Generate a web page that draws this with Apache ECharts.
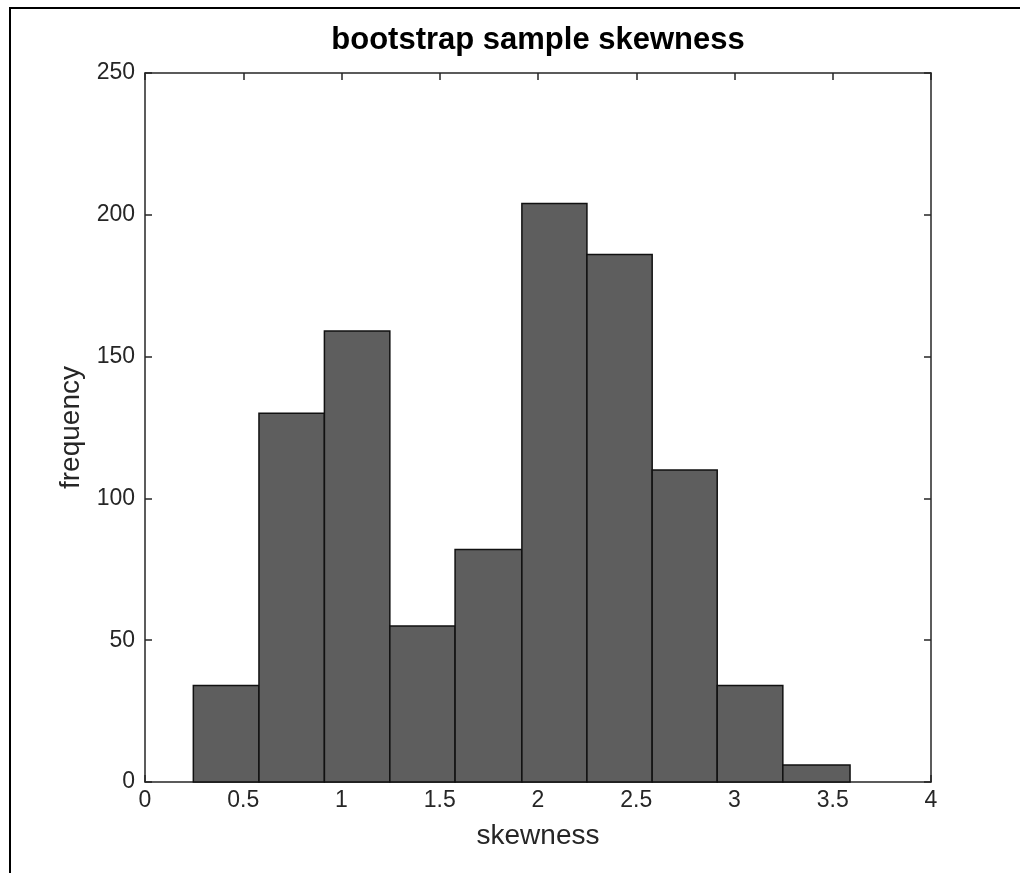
<!DOCTYPE html>
<html>
<head>
<meta charset="utf-8">
<script src="https://cdn.jsdelivr.net/npm/echarts@6/dist/echarts.min.js"></script>
<style>
html,body{margin:0;padding:0;background:#fff;}
#chart{width:1020px;height:873px;}
</style>
</head>
<body>
<div id="chart"></div>
<script>
var binEdges = [0.246, 0.580, 0.913, 1.246, 1.578, 1.918, 2.249, 2.581, 2.912, 3.246, 3.588];
var counts = [34, 130, 159, 55, 82, 204, 186, 110, 34, 6];
var xTicks = [0, 0.5, 1, 1.5, 2, 2.5, 3, 3.5, 4];
var yTicks = [0, 50, 100, 150, 200, 250];

var data = counts.map(function (c, i) { return [binEdges[i], binEdges[i + 1], c]; });
var FONT = 'Liberation Sans, Arial, sans-serif';

var chart = echarts.init(document.getElementById('chart'));
var axisLine = { show: true, onZero: false, lineStyle: { color: '#262626', width: 1.5 } };
var tick = { show: true, inside: true, length: 7, lineStyle: { color: '#262626', width: 1.5 } };

chart.setOption({
  backgroundColor: '#fff',
  animation: false,
  title: {
    text: 'bootstrap sample skewness',
    left: 533, top: 20, textAlign: 'center',
    textStyle: { fontFamily: FONT, fontSize: 31, fontWeight: 'bold', color: '#000' }
  },
  graphic: [{
    type: 'rect', shape: { x: 10, y: 8, width: 1030, height: 900 },
    style: { fill: 'none', stroke: '#000', lineWidth: 2 }, silent: true
  }],
  grid: { left: 145, right: 89, top: 73, bottom: 91, containLabel: false },
  xAxis: [{
    type: 'value', min: 0, max: 4, interval: 0.5, position: 'bottom',
    name: 'skewness', nameLocation: 'middle', nameGap: 40,
    nameTextStyle: { fontFamily: FONT, fontSize: 28, color: '#262626' },
    axisLine: axisLine, axisTick: tick, splitLine: { show: false },
    axisLabel: { fontFamily: FONT, fontSize: 23, color: '#262626', margin: 7,
      formatter: function (v) { return xTicks.indexOf(v) >= 0 ? String(v) : ''; } }
  }, {
    type: 'value', min: 0, max: 4, interval: 0.5, position: 'top',
    axisLine: axisLine, axisTick: tick, splitLine: { show: false }, axisLabel: { show: false }
  }],
  yAxis: [{
    type: 'value', min: 0, max: 250, interval: 50, position: 'left',
    name: 'frequency', nameLocation: 'middle', nameGap: 51,
    nameTextStyle: { fontFamily: FONT, fontSize: 28, color: '#262626' },
    axisLine: axisLine, axisTick: tick, splitLine: { show: false },
    axisLabel: { fontFamily: FONT, fontSize: 23, color: '#262626', margin: 10,
      formatter: function (v) { return yTicks.indexOf(v) >= 0 ? String(v) : ''; } }
  }, {
    type: 'value', min: 0, max: 250, interval: 50, position: 'right',
    axisLine: axisLine, axisTick: tick, splitLine: { show: false }, axisLabel: { show: false }
  }],
  series: [{
    type: 'custom',
    xAxisIndex: 0, yAxisIndex: 0,
    encode: { x: [0, 1], y: 2 },
    data: data,
    renderItem: function (params, api) {
      var p0 = api.coord([api.value(0), api.value(2)]);
      var p1 = api.coord([api.value(1), 0]);
      return {
        type: 'rect',
        shape: { x: p0[0], y: p0[1], width: p1[0] - p0[0], height: p1[1] - p0[1] },
        style: { fill: '#5e5e5e', stroke: '#111', lineWidth: 1.5 }
      };
    }
  }]
});
</script>
</body>
</html>
